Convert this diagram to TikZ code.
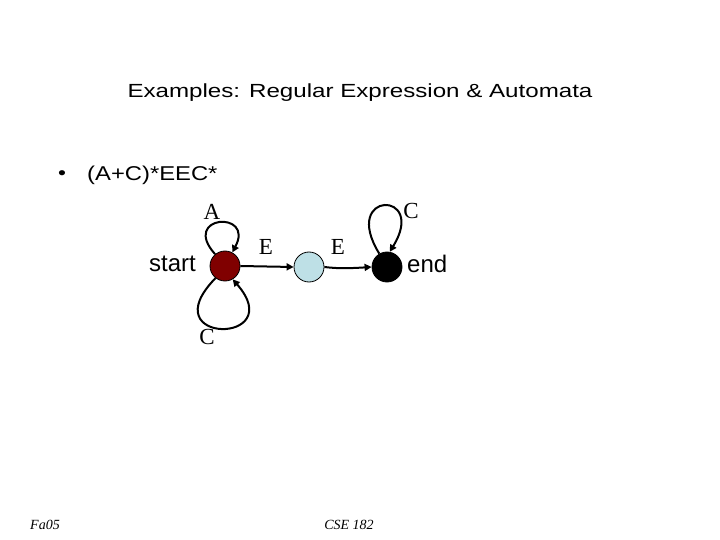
\documentclass[tikz,border=0pt]{standalone}
\usepackage{fontspec}
\setmainfont{Liberation Serif}
\newfontfamily\comic[FakeStretch=1.27]{Liberation Sans}
\newfontfamily\comicre[FakeStretch=1.19]{Liberation Sans}
\newfontfamily\arialf{Liberation Sans}
\usetikzlibrary{arrows.meta}
\definecolor{startred}{RGB}{128,0,0}
\definecolor{midblue}{RGB}{190,224,230}
\tikzset{
  state/.style={circle,draw=black,line width=0.8pt,minimum size=30pt,inner sep=0pt},
  edge/.style={line width=2pt,-{Triangle[length=7pt,width=7pt]}},
  elabel/.style={font=\fontsize{23}{23}\selectfont,inner sep=0pt},
  side/.style={font=\arialf\fontsize{24}{24}\selectfont,inner sep=0pt},
  foot/.style={font=\itshape\fontsize{14}{14}\selectfont,inner sep=0pt}
}
\begin{document}
\begin{tikzpicture}[x=1pt,y=-1pt]
\useasboundingbox (0,0) rectangle (720,540);
\node[inner sep=0pt,font=\comic\fontsize{19}{19}\selectfont] (title) at (360,93) {Examples: Regular Expression \& Automata};
\node[inner sep=0pt,font=\comicre\fontsize{19}{19}\selectfont] (bul) at (62,175) {•};
\node[inner sep=0pt,font=\comicre\fontsize{20}{20}\selectfont,anchor=west] (re) at (87,175) {(A+C)*EEC*};
\node[state,fill=startred] (s) at (225,266) {};
\node[state,fill=midblue] (m) at (309,267) {};
\node[state,fill=black] (e) at (387,267) {};
\node[side,anchor=east] (startlbl) at (196,264) {start};
\node[side,anchor=west] (endlbl) at (407,264) {end};
\draw[edge] (s.east) -- (m.west);
\draw[edge] (m.east) .. controls (340,269) and (355,268) .. (e.west);
\draw[edge] (s.130) .. controls (180,215) and (255,210) .. (s.62);
\draw[edge] (s.232) .. controls (150,345) and (290,345) .. (s.300);
\draw[edge] (e.120) .. controls (340,190) and (428,190) .. (e.80);
\node[elabel] (la) at (212,212) {A};
\node[elabel] (lc1) at (207,337) {C};
\node[elabel] (lc2) at (411,211) {C};
\node[elabel] (le1) at (266,247) {E};
\node[elabel] (le2) at (338,247) {E};
\node[foot] (fa) at (45,525) {Fa05};
\node[foot] (cse) at (349,525) {CSE 182};
\end{tikzpicture}
\end{document}
